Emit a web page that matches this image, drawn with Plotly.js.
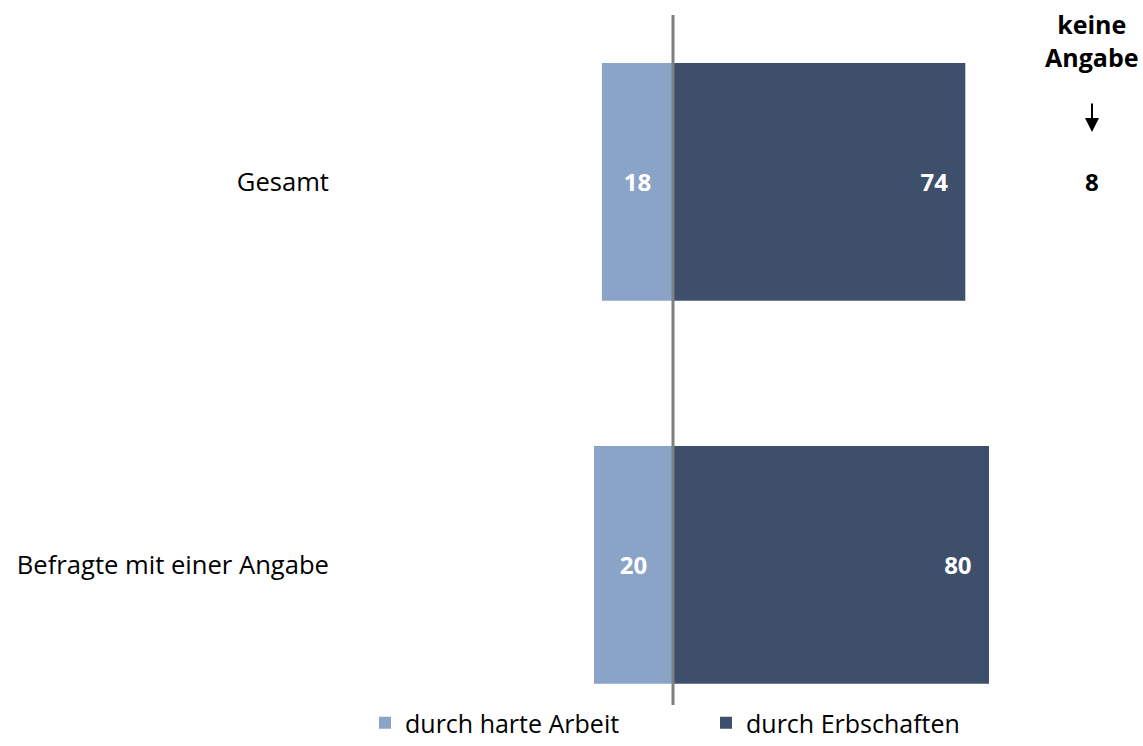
<!DOCTYPE html>
<html><head><meta charset="utf-8">
<script src="https://cdn.plot.ly/plotly-3.0.1.min.js"></script>
<style>html,body{margin:0;padding:0;background:#fff;}#chart{width:1143px;height:746px;}</style>
</head><body><div id="chart"></div>
<script>
const categories = ["Gesamt", "Befragte mit einer Angabe"];
const harteArbeit = [18, 20];
const erbschaften = [74, 80];
const keineAngabe = [8, null];
const seriesNames = ["durch harte Arbeit", "durch Erbschaften"];
const keineAngabeTitle = "keine<br>Angabe";

const FONT = "Open Sans, Liberation Sans, sans-serif";
const light = "#8AA4C8", dark = "#3E4F6B";

const traces = [
  {type:"bar", orientation:"h", name:seriesNames[0], y:categories,
   x:harteArbeit.map(v=>-v), text:harteArbeit.map(String), textposition:"inside",
   insidetextanchor:"middle", textangle:0,
   textfont:{family:FONT,size:24,color:"#ffffff",weight:"bold"},
   marker:{color:light}, hoverinfo:"skip"},
  {type:"bar", orientation:"h", name:seriesNames[1], y:categories,
   x:erbschaften, text:erbschaften.map(v=>v+"\u2002\u200a"), textposition:"inside",
   insidetextanchor:"end", textangle:0,
   textfont:{family:FONT,size:24,color:"#ffffff",weight:"bold"},
   marker:{color:dark}, hoverinfo:"skip"}
];

const XC = (1092-340)/803;
const annotations = [
  {xref:"paper", yref:"paper", x:XC, y:(705-41)/690, text:"<b>"+keineAngabeTitle+"</b>", showarrow:false,
   font:{family:FONT,size:25,color:"#000"}, xanchor:"center", yanchor:"middle"},
  {xref:"paper", yref:"paper", x:XC, y:(705-132)/690, text:"", showarrow:true, ax:0, ay:-30,
   arrowhead:2, arrowsize:1.4, arrowwidth:2, arrowcolor:"#000"}
];
categories.forEach((c,i)=>{
  if (keineAngabe[i] != null) annotations.push({xref:"paper", yref:"y", x:XC, y:c,
    xanchor:"center", yanchor:"middle",
    text:"<b>"+keineAngabe[i]+"</b>", showarrow:false, font:{family:FONT,size:24,color:"#000"}});
});

const layout = {
  width:1143, height:746,
  margin:{l:340, r:0, t:15, b:41},
  paper_bgcolor:"#fff", plot_bgcolor:"#fff",
  barmode:"relative", bargap:0.379,
  font:{family:FONT, size:25, color:"#000"},
  xaxis:{range:[-(673-340)/3.95, (1143-673)/3.95], showgrid:false, zeroline:false,
         showticklabels:false, ticks:"", fixedrange:true},
  yaxis:{type:"category", range:[1.366,-0.436], showgrid:false, zeroline:false, ticks:"",
         ticklabelstandoff:10, automargin:false, tickfont:{family:FONT,size:25.6,color:"#000"}},
  shapes:[{type:"line", xref:"x", yref:"paper", x0:0, x1:0, y0:0, y1:1,
           line:{color:"#808080", width:3}}],
  annotations:annotations,
  showlegend:true,
  legend:{orientation:"h", x:(365-340)/803, xanchor:"left", y:-41/690, yanchor:"bottom",
          font:{family:FONT,size:25,color:"#000"}, entrywidth:296, entrywidthmode:"pixels",
          bgcolor:"rgba(0,0,0,0)"}
};
Plotly.newPlot("chart", traces, layout, {displayModeBar:false, staticPlot:true});
</script></body></html>
